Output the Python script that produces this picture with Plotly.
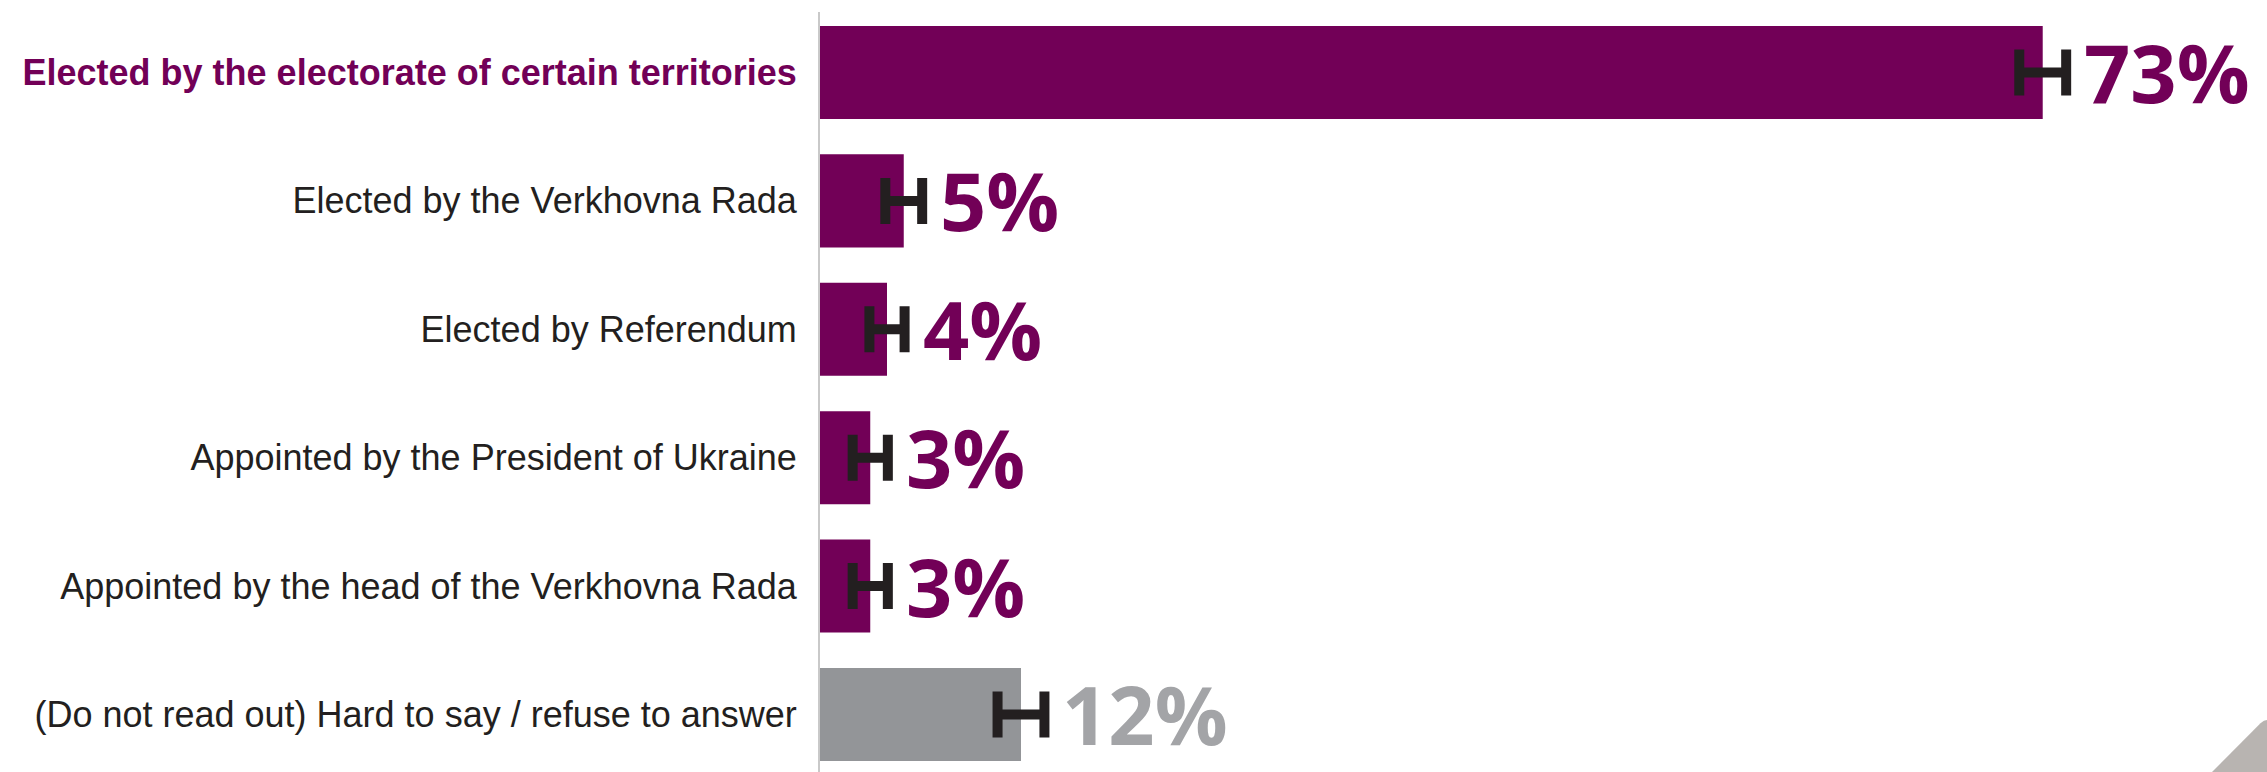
import plotly.graph_objects as go

categories = [
    "Elected by the electorate of certain territories",
    "Elected by the Verkhovna Rada",
    "Elected by Referendum",
    "Appointed by the President of Ukraine",
    "Appointed by the head of the Verkhovna Rada",
    "(Do not read out) Hard to say / refuse to answer",
]
values = [73, 5, 4, 3, 3, 12]
errors = [1.4, 1.1, 1.05, 1.05, 1.05, 1.4]
value_labels = ["73%", "5%", "4%", "3%", "3%", "12%"]

PURPLE = "#720057"
GREY = "#939598"
GREY_TXT = "#a3a4a7"
DARK = "#231f20"

bar_colors = [PURPLE] * 5 + [GREY]
text_colors = [PURPLE] * 5 + [GREY_TXT]
ypos = list(range(len(categories)))

ticktext = [f"<b><span style='color:{PURPLE}'>{categories[0]}</span></b>"] + categories[1:]

fig = go.Figure()
fig.add_trace(go.Bar(
    x=values, y=ypos, orientation="h",
    marker=dict(color=bar_colors, line=dict(width=0)),
    width=0.725,
    error_x=dict(type="data", array=errors, visible=True,
                 color=DARK, thickness=10, width=23),
    hoverinfo="skip",
))

for i, (v, e, lab, c) in enumerate(zip(values, errors, value_labels, text_colors)):
    fig.add_annotation(
        x=v + e, y=i, xref="x", yref="y",
        text=f"<b>{lab}</b>", showarrow=False,
        xanchor="left", yanchor="middle", xshift=16, yshift=1,
        font=dict(family="Open Sans", size=81, color=c),
    )

# decorative corner shape
fig.add_shape(
    type="path", xref="paper", yref="paper",
    path="M 0.962,0 L 0.9955,0.064 Q 0.998,0.0684 1.0,0.0684 L 1.0,0 Z",
    fillcolor="#b8b4b1", line=dict(width=0), layer="above",
)

fig.update_layout(
    width=2267, height=772,
    margin=dict(l=820, r=0, t=12, b=0, pad=0),
    paper_bgcolor="white", plot_bgcolor="white",
    showlegend=False,
    xaxis=dict(range=[0, 86.39], visible=False, fixedrange=True),
    yaxis=dict(
        range=[5.448, -0.471], tickvals=ypos, ticktext=ticktext,
        showgrid=False, zeroline=False, showline=True,
        linecolor="#c9c9c9", linewidth=2, ticks="",
        ticklabelstandoff=14,
        tickfont=dict(family="Liberation Sans", size=36, color=DARK),
        automargin=False, fixedrange=True,
    ),
)

fig.write_html(
    "out.html",
    config={"displayModeBar": False, "staticPlot": True},
    post_script="document.body.style.margin='0px';document.body.style.overflow='hidden';",
)
